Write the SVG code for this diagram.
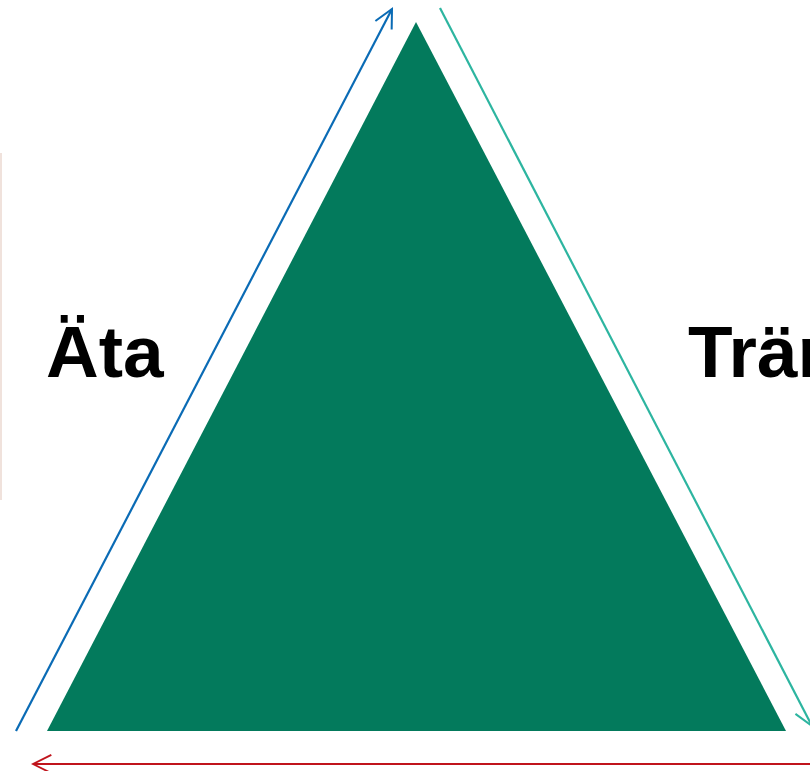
<svg xmlns="http://www.w3.org/2000/svg" width="810" height="771" viewBox="0 0 810 771">
<style>
.lbl{font-family:"Liberation Sans",Arial,sans-serif;font-weight:bold;font-size:73px;fill:#000}
.conn{fill:none;stroke-width:2.2}
</style>
<defs>
<marker id="aBlue" viewBox="0 0 12 12" refX="11" refY="6" markerWidth="22" markerHeight="22" markerUnits="userSpaceOnUse" orient="auto"><path d="M1,1 L11,6 L1,11" fill="none" stroke="#0A6BB5" stroke-width="1.1"/></marker>
<marker id="aTeal" viewBox="0 0 12 12" refX="11" refY="6" markerWidth="22" markerHeight="22" markerUnits="userSpaceOnUse" orient="auto"><path d="M1,1 L11,6 L1,11" fill="none" stroke="#2DB5A0" stroke-width="1.1"/></marker>
<marker id="aRed" viewBox="0 0 12 12" refX="11" refY="6" markerWidth="22" markerHeight="22" markerUnits="userSpaceOnUse" orient="auto"><path d="M1,1 L11,6 L1,11" fill="none" stroke="#C0141C" stroke-width="1.0"/></marker>
</defs>
<rect width="810" height="771" fill="#fff"/>
<rect x="0" y="153" width="2" height="347" fill="#f0e2dc"/>
<g id="triangle"><polygon points="416,22 47,731 786,731" fill="#037A5C"/></g>
<g id="eat"><text class="lbl" x="46" y="377">Äta</text></g>
<g id="train"><text class="lbl" x="688" y="377">Träning</text></g>
<g id="connectors">
<line class="conn" x1="16" y1="731" x2="392" y2="9" stroke="#0A6BB5" marker-end="url(#aBlue)"/>
<line class="conn" x1="440" y1="8" x2="812" y2="726" stroke="#2DB5A0" marker-end="url(#aTeal)"/>
<line class="conn" x1="812" y1="764" x2="33" y2="764" stroke="#C0141C" marker-end="url(#aRed)"/>
</g>
</svg>
